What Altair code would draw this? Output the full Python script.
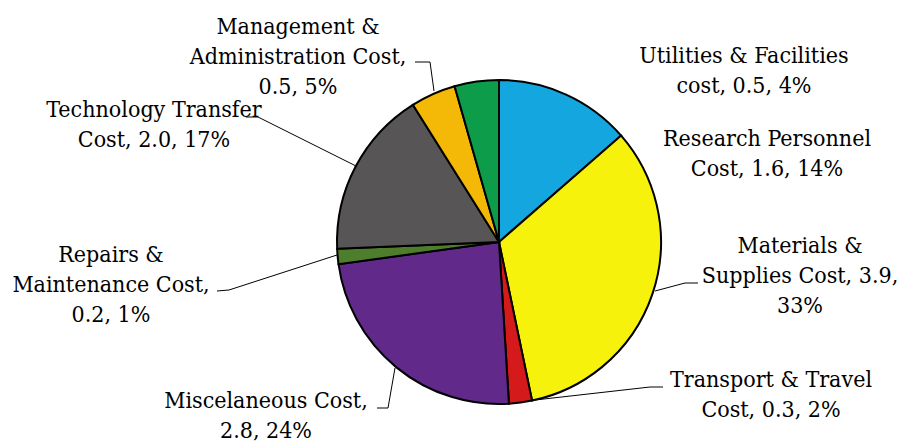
import altair as alt
import pandas as pd

# ---- data ----
categories = [
    "Research Personnel Cost",
    "Materials & Supplies Cost",
    "Transport & Travel Cost",
    "Miscelaneous Cost",
    "Repairs & Maintenance Cost",
    "Technology Transfer Cost",
    "Management & Administration Cost",
    "Utilities & Facilities cost",
]
values = [1.6, 3.9, 0.27, 2.8, 0.18, 1.97, 0.53, 0.52]
label_texts = [
    "Research Personnel\nCost, 1.6, 14%",
    "Materials &\nSupplies Cost, 3.9,\n33%",
    "Transport & Travel\nCost, 0.3, 2%",
    "Miscelaneous Cost,\n2.8, 24%",
    "Repairs &\nMaintenance Cost,\n0.2, 1%",
    "Technology Transfer\nCost, 2.0, 17%",
    "Management &\nAdministration Cost,\n0.5, 5%",
    "Utilities & Facilities\ncost, 0.5, 4%",
]
colors = ["#14A6DE", "#F7F20C", "#D41A1A", "#60298A", "#4E7D2C", "#575555", "#F4B806", "#0C9C4A"]

# ---- layout (page pixels; page margin is 8px) ----
M = 8
W, H = 890, 435
CX, CY, R = 499, 242, 162
FONT = "DejaVu Serif Condensed"
label_pos = [(767, 146), (800, 253), (771, 387), (266, 408), (111, 262), (154, 117), (298, 34), (744, 63)]
leaders = {
    "Materials & Supplies Cost": [(698, 283), (685, 283), (655, 291)],
    "Transport & Travel Cost": [(663, 387), (650, 387), (535, 400)],
    "Miscelaneous Cost": [(377, 408), (388, 408), (395, 368)],
    "Repairs & Maintenance Cost": [(217, 291), (229, 290), (337, 255)],
    "Technology Transfer Cost": [(246, 117), (258, 117), (356, 166)],
    "Management & Administration Cost": [(415, 62), (430, 62), (434, 91)],
}

pie_df = pd.DataFrame({"category": categories, "value": values, "idx": list(range(len(values)))})
lab_df = pd.DataFrame({
    "category": categories,
    "text": label_texts,
    "lx": [p[0] - M for p in label_pos],
    "ly": [p[1] - M for p in label_pos],
})
rows = []
for cat, pts in leaders.items():
    for i, (x, y) in enumerate(pts):
        rows.append({"category": cat, "i": i, "x": x - M, "y": y - M})
lead_df = pd.DataFrame(rows)

pie = alt.Chart(pie_df).mark_arc(radius=R, stroke="black", strokeWidth=2).encode(
    theta=alt.Theta("value:Q", stack=True),
    color=alt.Color("category:N", scale=alt.Scale(domain=categories, range=colors), legend=None),
    order=alt.Order("idx:Q"),
    x=alt.value(CX - M),
    y=alt.value(CY - M),
)

lead = alt.Chart(lead_df).mark_line(color="black", strokeWidth=1).encode(
    x=alt.X("x:Q", scale=None),
    y=alt.Y("y:Q", scale=None),
    detail="category:N",
    order="i:Q",
)

labels = alt.Chart(lab_df).mark_text(
    font=FONT, fontSize=23, lineBreak="\n", lineHeight=30,
    align="center", baseline="alphabetic", color="black",
).encode(
    x=alt.X("lx:Q", scale=None),
    y=alt.Y("ly:Q", scale=None),
    text="text:N",
)

chart = alt.layer(pie, lead, labels).properties(
    width=W, height=H, padding=0, autosize=alt.AutoSizeParams(type="none"),
).configure(font=FONT).configure_view(stroke=None).configure_axis(disable=True)

chart.save("out.html", embed_options={"renderer": "svg", "actions": False})
